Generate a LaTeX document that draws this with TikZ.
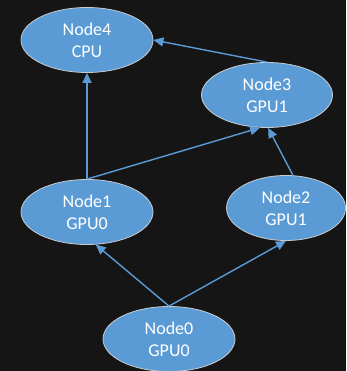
\documentclass[tikz,border=0pt]{standalone}
\usepackage{fontspec}
\setmainfont{Carlito}
\usetikzlibrary{arrows.meta,shapes.geometric}
\definecolor{bg}{HTML}{151515}
\definecolor{nodeblue}{HTML}{5B9BD5}
\definecolor{rim}{HTML}{C8CCD0}
\tikzset{
  device/.style={ellipse, fill=nodeblue, draw=rim, line width=0.8pt,
    minimum width=#1, minimum height=65pt, inner sep=0pt, text=white,
    align=center, font=\fontsize{18}{22}\selectfont},
  device/.default=132pt,
  link/.style={draw=nodeblue, line width=1.4pt,
    -{Triangle[length=10pt,width=9pt]}, shorten >=0pt}
}
\begin{document}
\begin{tikzpicture}[x=1pt,y=-1pt]
  \fill[bg] (0,0) rectangle (346,371);
  \useasboundingbox (0,0) rectangle (346,371);
  \node[device] (n4) at (87,40)  {Node4\\CPU};
  \node[device=131pt] (n3) at (267,95)  {Node3\\GPU1};
  \node[device] (n1) at (87,212) {Node1\\GPU0};
  \node[device=119pt] (n2) at (286,208) {Node2\\GPU1};
  \node[device] (n0) at (169,339) {Node0\\GPU0};
  \draw[link] (n0.north) -- (n1.-75);
  \draw[link] (n0.north) -- (n2.south);
  \draw[link] (n1.north) -- (n4.south);
  \draw[link] (n1.north) -- (n3.-102);
  \draw[link] (n2.78) -- (n3.-88);
  \draw[link] (n3.north) -- (n4.east);
\end{tikzpicture}
\end{document}
